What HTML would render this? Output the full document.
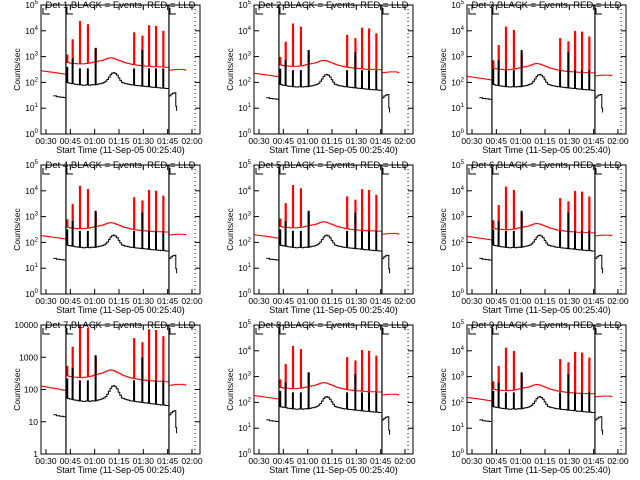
<!DOCTYPE html>
<html><head><meta charset="utf-8"><style>
html,body{margin:0;padding:0;background:#fff}
svg{display:block;font-family:"Liberation Sans",sans-serif}
</style></head><body>
<svg id="chart" width="640" height="480" viewBox="0 0 640 480" xmlns="http://www.w3.org/2000/svg">
<rect width="640" height="480" fill="#fff"/>
</svg>
<script>
// ---- data ----
const mainTimes = [];
const mainStart = 42.5;
const blackBase = [100,95,92,90,88,85,84,82,
80,80,78,78,80,80,78,80,82,80,
82,85,88,90,95,100,110,130,160,200,
230,240,220,190,150,120,100,95,90,88,
85,82,80,80,78,76,75,74,72,72,
70,70,68,68,66,65,64,64,62,62,
60,60,60,58,58,58];
const redBase = [600,580,560,550,540,540,530,520,
520,520,520,530,540,550,560,580,600,620,
640,660,680,700,720,760,800,850,880,900,
880,850,800,760,720,680,640,600,580,560,
540,520,500,490,480,470,460,450,440,440,
430,430,420,420,410,410,400,400,400,400,
400,400,390,390,390,390];
const leftRedTimes = [27,28,29,30,31,32,33,34,35,36,37,38,39,40,41,42.3];
const leftRed = [280,275,270,265,260,255,250,245,240,235,230,225,220,215,210,210];
const leftBlackTimes = [34.5,35.5,36.5,37.5,38.5,39.5,40.5,41.5,42.3];
const leftBlack = [30,30,28,28,27,27,26,26,26];
const rightRedTimes = [105.8,107,108,109,110,111,112,113,114,115,116,116.5];
const rightRed = [300,300,310,310,320,320,320,320,320,310,300,300];
const rightBlackTimes = [105.8,107,108,109,110,110.5];
const rightBlack = [30,35,38,40,12,8];
const spikeTimes = [43.1,46.4,50.9,55.8,60.6,84.3,89.4,93.5,97.8,102.3];
const redSpikes = [1200,4700,24000,18000,2200,8700,6500,16500,15500,10000];
const blackSpikes = [400,850,350,350,2100,350,1800,350,350,350];
const panelNames = ["Det 1","Det 2","Det 3","Det 4","Det 5","Det 6","Det 7","Det 8","Det 9"];
const blackScale = [1,0.85,0.85,0.8,0.8,0.8,0.55,0.7,0.7];
const redScale = [1,0.8,0.6,0.65,0.7,0.6,0.45,0.65,0.55];
const xTickValues = [30,45,60,75,90,105,120];
const xTickLabels = ["00:30","00:45","01:00","01:15","01:30","01:45","02:00"];
const vLines = [42.3,105.8];
const dotLine = 121.9;
for(let i=0;i<blackBase.length;i++) mainTimes.push(mainStart+i);

const NS="http://www.w3.org/2000/svg";
const svg=document.getElementById('chart');
function mk(tag,attrs,parent){const e=document.createElementNS(NS,tag);for(const k in attrs)e.setAttribute(k,attrs[k]);(parent||svg).appendChild(e);return e;}

for(let p=0;p<9;p++){
  const col=p%3,row=Math.floor(p/3);
  const ox=[0,213,426][col], oy=row*160;
  const L=ox+41,R=ox+200,T=oy+5,B=oy+134;
  const decades = (p===6)?4:5;
  const xS=t=>L+5+(t-30)*1.622;
  const yS=v=>B-(Math.log10(Math.max(v,0.5)))*(B-T)/decades;
  const g=mk('g',{});
  
  
  const clipId='c'+p;
  const cp=mk('clipPath',{id:clipId},g);mk('rect',{x:L,y:T,width:R-L,height:B-T},cp);
  const data=mk('g',{'clip-path':'url(#'+clipId+')'},g);
  function step(ts,vs,sc,color,name){
    let d='';
    for(let i=0;i<ts.length;i++){
      const x=xS(ts[i]),y=yS(vs[i]*sc);
      if(i===0)d+='M'+x.toFixed(1)+','+y.toFixed(1);
      else d+='H'+x.toFixed(1)+'V'+y.toFixed(1);
    }
    const e=mk('path',{d:d,fill:'none',stroke:color,'stroke-width':1},data);
    
    
  }
  const bs=blackScale[p],rs=redScale[p];
  step(leftRedTimes,leftRed,rs,'#f00','red-lld-left');
  step(mainTimes,redBase,rs,'#f00','red-lld-main');
  step(rightRedTimes,rightRed,rs,'#f00','red-lld-right');
  spikeTimes.forEach((t,i)=>{
    const i0=Math.round(t-mainStart);
    const base=redBase[Math.max(0,Math.min(i0,redBase.length-1))]*rs;
    const r=mk('rect',{x:xS(t)-1,y:yS(redSpikes[i]*rs),width:2.2,height:yS(base)-yS(redSpikes[i]*rs),fill:'#f00'},data);
    
    
  });
  step(leftBlackTimes,leftBlack,bs,'#000','black-events-left');
  step(mainTimes,blackBase,bs,'#000','black-events-main');
  step(rightBlackTimes,rightBlack,bs,'#000','black-events-right');
  spikeTimes.forEach((t,i)=>{
    const i0=Math.round(t-mainStart);
    const base=blackBase[Math.max(0,Math.min(i0,blackBase.length-1))]*bs;
    const r=mk('rect',{x:xS(t)-1,y:yS(blackSpikes[i]*bs),width:2,height:yS(base)-yS(blackSpikes[i]*bs),fill:'#000'},data);
    
    
  });
  vLines.forEach(t=>{
    const l=mk('line',{x1:xS(t),x2:xS(t),y1:T,y2:B,stroke:'#000','stroke-width':1.2},g);
    
    
    mk('path',{d:`M${xS(t)+1},${T+3}V${T+9}H${xS(t)+7}`,fill:'none',stroke:'#000'},g);
  });
  mk('path',{d:`M${L+2},${T+3}V${T+9}H${L+9}`,fill:'none',stroke:'#000'},g);
  const dl=mk('line',{x1:xS(dotLine),x2:xS(dotLine),y1:T,y2:B,stroke:'#000','stroke-dasharray':'1,3'},g);
  
  
  const fr=mk('rect',{x:L,y:T,width:R-L,height:B-T,fill:'none',stroke:'#000','stroke-width':1},g);
  
  
  for(let d=0;d<=decades;d++){
    const y=yS(Math.pow(10,d));
    mk('line',{x1:L,x2:L+5,y1:y,y2:y,stroke:'#000'},g);
    mk('line',{x1:R,x2:R-5,y1:y,y2:y,stroke:'#000'},g);
    const tx=mk('text',{x:L-3,y:y+3,'font-size':8.5,'text-anchor':'end'},g);
    
    
    if(p===6){tx.textContent=String(Math.pow(10,d));}
    else{tx.textContent='10';const s=mk('tspan',{'font-size':6,dy:-4},tx);s.textContent=String(d);}
  }
  xTickValues.forEach((t,i)=>{
    const x=xS(t);
    mk('line',{x1:x,x2:x,y1:B,y2:B-5,stroke:'#000'},g);
    mk('line',{x1:x,x2:x,y1:T,y2:T+5,stroke:'#000'},g);
    const tx=mk('text',{x:x,y:B+10,'font-size':8.5,'text-anchor':'middle'},g);
    
    
    tx.textContent=xTickLabels[i];
  });
  const xt=mk('text',{x:(L+R)/2,y:B+19,'font-size':9,'text-anchor':'middle'},g);
  
  
  xt.textContent='Start Time (11-Sep-05 00:25:40)';
  const yt=mk('text',{x:0,y:0,'font-size':8.5,'text-anchor':'middle',transform:`translate(${ox+20},${(T+B)/2}) rotate(-90)`},g);
  
  
  yt.textContent='Counts/sec';
  const ti=mk('text',{x:(L+R)/2,y:oy+8,'font-size':9.5,'text-anchor':'middle'},g);
  
  
  ti.textContent=panelNames[p]+'  BLACK = Events, RED = LLD';
}
</script>
</body></html>
